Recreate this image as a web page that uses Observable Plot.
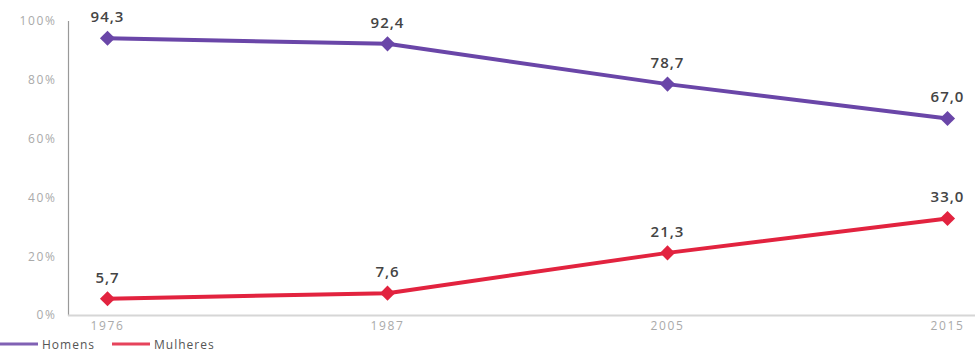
<!DOCTYPE html>
<html>
<head>
<meta charset="utf-8">
<script src="https://cdn.jsdelivr.net/npm/d3@7"></script>
<script src="https://cdn.jsdelivr.net/npm/@observablehq/plot@0.6"></script>
<style>
  html, body { margin: 0; padding: 0; background: #fff; }
  #legend { display: flex; align-items: center; height: 18px; font-family: "Open Sans", sans-serif; font-size: 12px; letter-spacing: 1px; color: #555; margin-top: 0; }
  #legend .item { display: flex; align-items: center; margin-right: 17px; }
  #legend svg { margin-right: 4px; }
  g[aria-label="y-axis tick label"] text, g[aria-label="x-axis tick label"] text { letter-spacing: 1.6px; }
  g[aria-label="text"] text { letter-spacing: 1px; }
</style>
</head>
<body>
<div id="chart"></div>
<div id="legend"></div>
<script>
const years = ["1976", "1987", "2005", "2015"];
const homens = [94.3, 92.4, 78.7, 67.0];
const mulheres = [5.7, 7.6, 21.3, 33.0];
const series = ["Homens", "Mulheres"];
const colors = ["#6a46a8", "#e2233f"];
const yTicks = [0, 20, 40, 60, 80, 100];

const data = [];
years.forEach((y, i) => data.push({year: y, value: homens[i], serie: series[0]}));
years.forEach((y, i) => data.push({year: y, value: mulheres[i], serie: series[1]}));

const fmt = v => v.toFixed(1).replace(".", ",");

const chart = Plot.plot({
  width: 975,
  height: 335,
  marginTop: 21,
  marginBottom: 20,
  marginLeft: 68,
  marginRight: 0,
  style: {fontFamily: "'Open Sans', sans-serif", background: "#fff"},
  x: {type: "point", domain: years, range: [107, 947], padding: 0, label: null},
  y: {domain: [0, 100], label: null},
  color: {domain: series, range: colors},
  marks: [
    Plot.frame({anchor: "left", stroke: "#999", strokeWidth: 1.2}),
    Plot.ruleY([0], {stroke: "#d6d6d6", strokeWidth: 2}),
    Plot.axisY({ticks: yTicks, tickFormat: d => d + "%", tickSize: 0, tickPadding: 12, fill: "#aaa", fontSize: 12, label: null}),
    Plot.axisX({tickSize: 0, tickPadding: 6, fill: "#aaa", fontSize: 12, label: null}),
    Plot.line(data, {x: "year", y: "value", z: "serie", stroke: "serie", strokeWidth: 4}),
    Plot.dot(data, {x: "year", y: "value", fill: "serie", symbol: "diamond2", r: 6.8, stroke: null}),
    Plot.text(data, {x: "year", y: "value", text: d => fmt(d.value), dy: -21, fill: "#444", fontSize: 15, fontWeight: 600})
  ]
});
document.getElementById("chart").appendChild(chart);

const legend = document.getElementById("legend");
series.forEach((s, i) => {
  const item = document.createElement("div");
  item.className = "item";
  item.innerHTML = `<svg width="38" height="6"><line x1="0" x2="38" y1="3" y2="3" stroke="${colors[i]}" stroke-width="3" opacity="0.85"/></svg><span>${s}</span>`;
  legend.appendChild(item);
});
</script>
</body>
</html>
